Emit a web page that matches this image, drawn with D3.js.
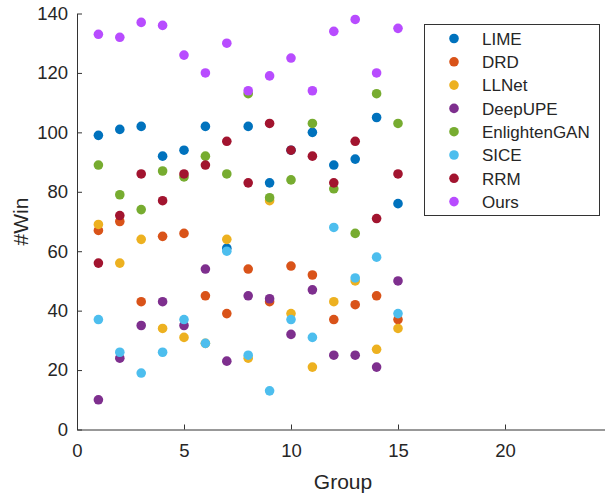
<!DOCTYPE html>
<html>
<head>
<meta charset="utf-8">
<script src="https://cdn.jsdelivr.net/npm/d3@7"></script>
<style>
  body { margin: 0; background: #fff; }
  svg text { font-family: "Liberation Sans", Arial, sans-serif; fill: #262626; }
</style>
</head>
<body>
<div id="chart"></div>
<script>
// groups 1..15
let groups = d3.range(1, 16);
let methods = ["LIME", "DRD", "LLNet", "DeepUPE", "EnlightenGAN", "SICE", "RRM", "Ours"];
let colors = ["#0072BD", "#D95319", "#EDB120", "#7E2F8E", "#77AC30", "#4DBEEE", "#A2142F", "#B84CFF"];

let lime = [99, 101, 102, 92, 94, 102, 61, 102, 83, 94, 100, 89, 91, 105, 76];
let drd = [67, 70, 43, 65, 66, 45, 39, 54, 43, 55, 52, 37, 42, 45, 37];
let llnet = [69, 56, 64, 34, 31, 29, 64, 24, 77, 39, 21, 43, 50, 27, 34];
let deepupe = [10, 24, 35, 43, 35, 54, 23, 45, 44, 32, 47, 25, 25, 21, 50];
let enlightengan = [89, 79, 74, 87, 85, 92, 86, 113, 78, 84, 103, 81, 66, 113, 103];
let sice = [37, 26, 19, 26, 37, 29, 60, 25, 13, 37, 31, 68, 51, 58, 39];
let rrm = [56, 72, 86, 77, 86, 89, 97, 83, 103, 94, 92, 83, 97, 71, 86];
let ours = [133, 132, 137, 136, 126, 120, 130, 114, 119, 125, 114, 134, 138, 120, 135];

let series = [lime, drd, llnet, deepupe, enlightengan, sice, rrm, ours];

let xTicks = [0, 5, 10, 15, 20];
let yTicks = [0, 20, 40, 60, 80, 100, 120, 140];

let width = 605, height = 493;
let margin = {top: 13.5, left: 77, bottom: 63.5};

let svg = d3.select("#chart").append("svg")
    .attr("width", width)
    .attr("height", height);

let xScale = d3.scaleLinear()
    .domain([0, 25])
    .range([margin.left, margin.left + 25 * 21.4]);

let yScale = d3.scaleLinear()
    .domain([0, 140])
    .range([height - margin.bottom, margin.top]);

//axes, MATLAB style ticks pointing inwards
let xAxis = svg.append("g")
    .attr("transform", "translate(0," + yScale(0) + ")")
    .call(d3.axisBottom(xScale).tickValues(xTicks).tickSizeInner(-5).tickSizeOuter(0).tickPadding(14));

let yAxis = svg.append("g")
    .attr("transform", "translate(" + xScale(0) + ",0)")
    .call(d3.axisLeft(yScale).tickValues(yTicks).tickSizeInner(-5).tickSizeOuter(0).tickPadding(9));

[xAxis, yAxis].forEach(function (ax) {
    ax.select(".domain").attr("stroke", "#333").attr("stroke-width", 1);
    ax.selectAll(".tick line").attr("stroke", "#333");
    ax.selectAll(".tick text").attr("font-size", 18.5).attr("fill", "#262626");
});

//points
series.forEach(function (vals, s) {
    svg.append("g").selectAll("circle")
        .data(vals)
        .enter().append("circle")
        .attr("cx", function (d, i) { return xScale(groups[i]); })
        .attr("cy", function (d) { return yScale(d); })
        .attr("r", 4.8)
        .attr("fill", colors[s]);
});

//axis titles
svg.append("text")
    .attr("x", 343)
    .attr("y", 489)
    .attr("text-anchor", "middle")
    .attr("font-size", 21)
    .text("Group");

svg.append("text")
    .attr("transform", "translate(28," + (yScale(70)) + ") rotate(-90)")
    .attr("text-anchor", "middle")
    .attr("font-size", 21)
    .text("#Win");

//legend
let legend = svg.append("g");
legend.append("rect")
    .attr("x", 424.5)
    .attr("y", 24.5)
    .attr("width", 175)
    .attr("height", 191)
    .attr("fill", "#fff")
    .attr("stroke", "#333")
    .attr("stroke-width", 1);

let rows = legend.selectAll("g.row")
    .data(methods)
    .enter().append("g")
    .attr("class", "row")
    .attr("transform", function (d, i) { return "translate(0," + (38.5 + i * 23.3) + ")"; });

rows.append("circle")
    .attr("cx", 454)
    .attr("cy", 0)
    .attr("r", 4.8)
    .attr("fill", function (d, i) { return colors[i]; });

rows.append("text")
    .attr("x", 482)
    .attr("y", 6.3)
    .attr("font-size", 17)
    .text(function (d) { return d; });
</script>
</body>
</html>
